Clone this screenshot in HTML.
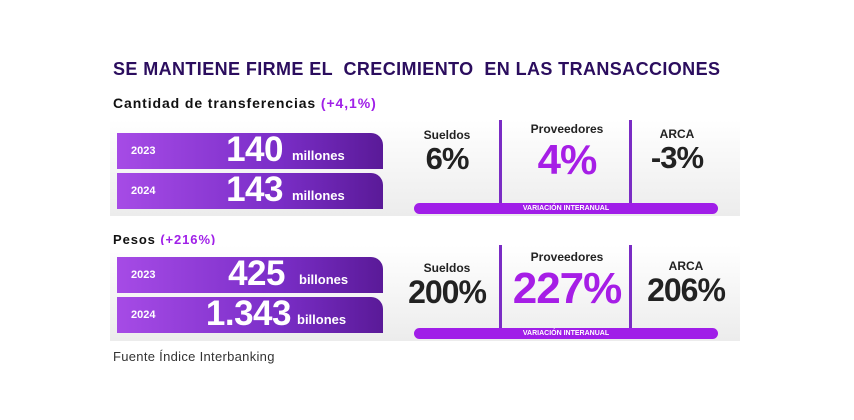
<!DOCTYPE html>
<html><head><meta charset="utf-8"><style>
body{margin:0;width:854px;height:420px;background:#fff;position:relative;overflow:hidden;font-family:"Liberation Sans",sans-serif}
.a{position:absolute;white-space:nowrap}
.bg{position:absolute;background:linear-gradient(#fff,#ececec)}
.bar{position:absolute;left:117px;width:266px;height:36px;border-radius:0 12px 0 0;background:linear-gradient(90deg,#a64be6,#7b2ec8 60%,#5a1a98)}
.yr{position:absolute;left:14px;top:12px;color:#fff;font-weight:bold;font-size:11px}
.num{position:absolute;color:#fff;font-weight:bold;font-size:35px;top:-3px;letter-spacing:-0.5px}
.unit{position:absolute;color:#fff;font-weight:bold;font-size:13px;top:15px}
.div{position:absolute;width:3px;background:#7a2cc4}
.pill{position:absolute;left:414px;width:304px;height:11px;border-radius:6px;background:#a01ee8;color:#fff;font-size:7px;font-weight:bold;text-align:center;line-height:11px}
.lab{position:absolute;font-weight:bold;font-size:12px;color:#222;transform:translateX(-50%)}
.big{position:absolute;font-weight:bold;color:#222;transform:translateX(-50%);letter-spacing:-1px}
</style></head><body>
<div class="a" style="left:113px;top:59px;font-size:18px;letter-spacing:0.4px;font-weight:bold;color:#2b0d5e">SE MANTIENE FIRME EL &nbsp;CRECIMIENTO &nbsp;EN LAS TRANSACCIONES</div>
<div class="a" style="left:113px;top:95px;font-size:14px;letter-spacing:0.9px;font-weight:bold;color:#111">Cantidad de transferencias <span style="color:#a020e8">(+4,1%)</span></div>
<div class="bg" style="left:110px;top:120px;width:630px;height:96px"></div>
<div class="bar" style="top:133px"><span class="yr">2023</span><span class="num" style="right:100px">140</span><span class="unit" style="left:175px">millones</span></div>
<div class="bar" style="top:173px"><span class="yr">2024</span><span class="num" style="right:100px">143</span><span class="unit" style="left:175px">millones</span></div>
<div class="div" style="left:499px;top:120px;height:84px"></div>
<div class="div" style="left:629px;top:120px;height:84px"></div>
<div class="lab" style="left:447px;top:128px">Sueldos</div>
<div class="big" style="left:447px;top:141px;font-size:31px">6%</div>
<div class="lab" style="left:567px;top:122px">Proveedores</div>
<div class="big" style="left:567px;top:136px;font-size:42px;color:#a61ee6">4%</div>
<div class="lab" style="left:677px;top:127px">ARCA</div>
<div class="big" style="left:677px;top:140px;font-size:31px">-3%</div>
<div class="pill" style="top:203px">VARIACIÓN INTERANUAL</div>

<div class="a" style="left:113px;top:232px;font-size:13px;letter-spacing:0.9px;font-weight:bold;color:#111">Pesos <span style="color:#a020e8">(+216%)</span></div>
<div class="bg" style="left:110px;top:245px;width:630px;height:96px"></div>
<div class="bar" style="top:257px"><span class="yr">2023</span><span class="num" style="right:98px">425</span><span class="unit" style="left:182px">billones</span></div>
<div class="bar" style="top:297px"><span class="yr">2024</span><span class="num" style="right:92px">1.343</span><span class="unit" style="left:180px">billones</span></div>
<div class="div" style="left:499px;top:245px;height:84px"></div>
<div class="div" style="left:629px;top:245px;height:84px"></div>
<div class="lab" style="left:447px;top:261px">Sueldos</div>
<div class="big" style="left:447px;top:274px;font-size:32px">200%</div>
<div class="lab" style="left:567px;top:250px">Proveedores</div>
<div class="big" style="left:567px;top:264px;font-size:44px;color:#a61ee6">227%</div>
<div class="lab" style="left:686px;top:259px">ARCA</div>
<div class="big" style="left:686px;top:272px;font-size:32px">206%</div>
<div class="pill" style="top:328px">VARIACIÓN INTERANUAL</div>
<div class="a" style="left:113px;top:349px;font-size:13px;letter-spacing:0.3px;color:#333">Fuente Índice Interbanking</div>
</body></html>
